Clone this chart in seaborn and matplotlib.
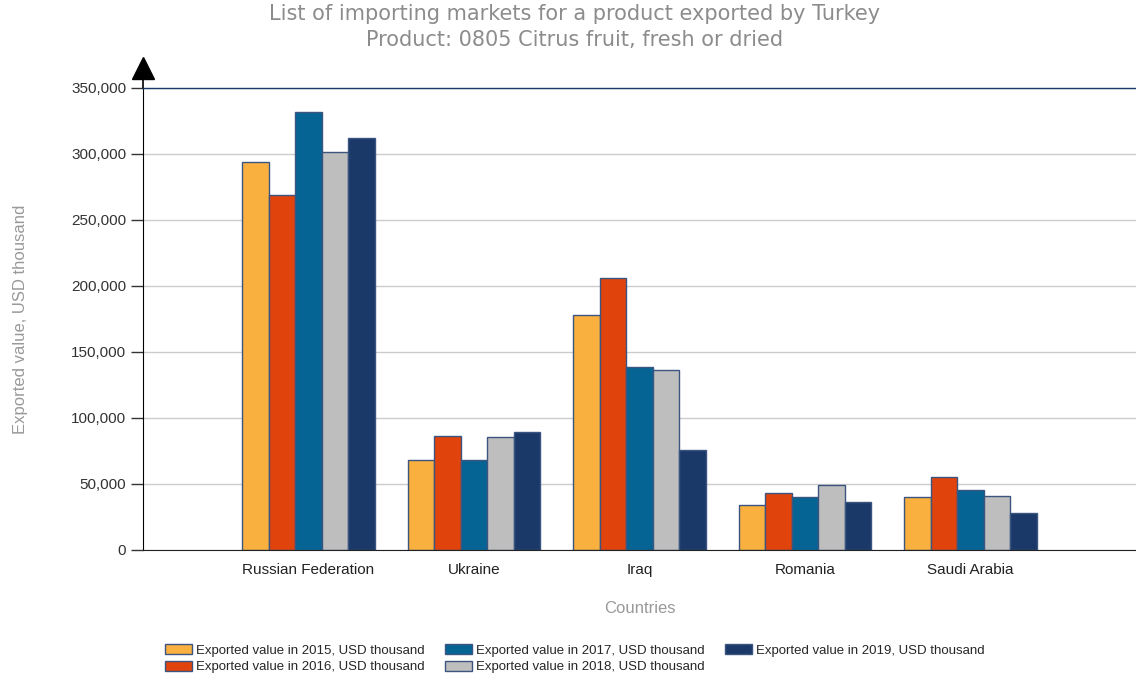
import pandas as pd
import numpy as np
import matplotlib
matplotlib.use("Agg")
import matplotlib.pyplot as plt
import matplotlib.ticker as mticker
from matplotlib.patches import Patch
import seaborn as sns

# data (USD thousand)
countries = ["Russian Federation", "Ukraine", "Iraq", "Romania", "Saudi Arabia"]
years = ["2015", "2016", "2017", "2018", "2019"]
v2015 = [294000, 68200, 178300, 34300, 39900]
v2016 = [269000, 86600, 206000, 43400, 55500]
v2017 = [331500, 68200, 138900, 40200, 45500]
v2018 = [301300, 85600, 136100, 49200, 40900]
v2019 = [312400, 89600, 76000, 36400, 28300]
colors = ["#F9B03F", "#E0430B", "#066494", "#BEBEBE", "#1B3968"]

series = [v2015, v2016, v2017, v2018, v2019]
rows = []
for yr, vals in zip(years, series):
    for c, v in zip(countries, vals):
        rows.append({"country": c, "year": yr, "value": v})
df = pd.DataFrame(rows)

sns.set_style("white")
plt.rcParams["font.family"] = ["Liberation Sans", "DejaVu Sans"]

fig = plt.figure(figsize=(11.36, 6.79), dpi=100)
ax = fig.add_axes([0.1259, 0.19, 0.8741, 0.6804])

sns.barplot(data=df, x="country", y="value", hue="year", palette=colors,
            saturation=1, edgecolor="#3A5580", linewidth=1.0, width=0.8,
            ax=ax, legend=False)

ax.set_ylim(0, 350000)
ax.set_xlim(-1, 5)
ax.yaxis.set_major_locator(mticker.MultipleLocator(50000))
ax.yaxis.set_major_formatter(mticker.FuncFormatter(lambda v, p: "{:,.0f}".format(v)))
ax.grid(axis="y", color="#CCCCCC", linewidth=1)
ax.set_axisbelow(True)

ax.spines["right"].set_visible(False)
ax.spines["top"].set_color("#1B3968")
ax.spines["top"].set_linewidth(1.0)
ax.spines["bottom"].set_color("#222222")
ax.spines["left"].set_color("#000000")

ax.tick_params(axis="y", direction="out", length=9, width=1, color="#333333",
               left=True, labelsize=11, labelcolor="#333333", pad=3)
ax.tick_params(axis="x", length=0, labelsize=11, labelcolor="#222222", pad=9.5)

# arrow on top of the y axis
ax.plot([0, 0], [1.0, 1.03], transform=ax.transAxes, color="black",
        linewidth=1.2, clip_on=False)
ax.plot([0], [1.043], transform=ax.transAxes, marker="^", markersize=16,
        color="black", clip_on=False)

ax.set_xlabel("Countries", fontsize=12, color="#999999", labelpad=17)
ax.set_ylabel("Exported value, USD thousand", fontsize=12, color="#999999", labelpad=31)

fig.text(0.506, 0.979, "List of importing markets for a product exported by Turkey",
         ha="center", va="center", fontsize=15, color="#8C8C8C", family="DejaVu Sans")
fig.text(0.506, 0.941, "Product: 0805 Citrus fruit, fresh or dried",
         ha="center", va="center", fontsize=15, color="#8C8C8C", family="DejaVu Sans")

handles = [Patch(facecolor=c, edgecolor="#3A5580", linewidth=1.0) for c in colors]
labels = ["Exported value in %s, USD thousand" % y for y in years]
fig.legend(handles, labels, ncol=3, loc="center", bbox_to_anchor=(0.506, 0.030),
           frameon=False, fontsize=9.5, handlelength=2.05, handleheight=0.8,
           columnspacing=1.5, handletextpad=0.35, labelspacing=0.3)

fig.savefig("out.png", dpi=100)
